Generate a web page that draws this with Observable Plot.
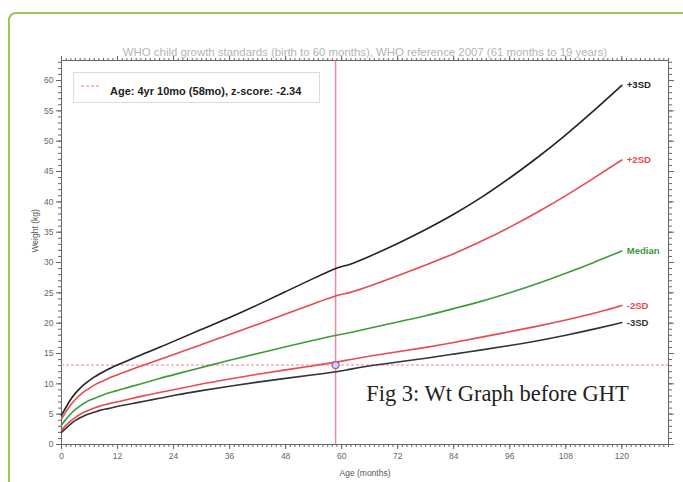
<!DOCTYPE html>
<html>
<head>
<meta charset="utf-8">
<script src="https://cdn.jsdelivr.net/npm/d3@7"></script>
<script src="https://cdn.jsdelivr.net/npm/@observablehq/plot@0.6"></script>
<style>
  html, body { margin: 0; padding: 0; background: #fff; }
  #wrap { position: relative; width: 683px; height: 482px; overflow: hidden; font-family: "Liberation Sans", Arial, sans-serif; }
  #border { position: absolute; left: 8px; top: 12px; width: 720px; height: 520px; border: 2px solid #96c95a; border-radius: 8px; box-sizing: border-box; }
  #chart { position: absolute; left: 0; top: 0; }
  #legend { position: absolute; left: 73px; top: 72px; width: 247px; height: 31px; border: 1px solid #d3dfe4; box-sizing: border-box; background: #fff; }
  #legend svg { position: absolute; left: 7px; top: 10px; }
  #legend span { position: absolute; left: 36px; top: 12px; font-size: 11px; font-weight: bold; color: #222; white-space: nowrap; }
</style>
</head>
<body>
<div id="wrap">
  <div id="border"></div>
  <div id="chart"></div>
  <div id="legend"><svg width="24" height="6"><line x1="0" y1="3" x2="20" y2="3" stroke="#e07a90" stroke-width="1" stroke-dasharray="3,2"/></svg><span></span></div>
</div>
<script>
const months = [0,1,2,3,4,5,6,7,8,9,10,11,12,15,18,21,24,30,36,42,48,54,60,61,66,72,78,84,90,96,102,108,114,120];
const minus3SD = [2.0,2.7,3.4,4.0,4.4,4.8,5.1,5.3,5.6,5.8,5.9,6.1,6.3,6.7,7.2,7.6,8.1,8.9,9.6,10.3,10.9,11.5,12.1,12.3,13.0,13.6,14.2,14.9,15.6,16.3,17.1,18.0,19.0,20.1];
const minus2SD = [2.4,3.2,3.9,4.5,5.0,5.4,5.7,6.0,6.3,6.5,6.7,6.9,7.0,7.6,8.1,8.6,9.0,10.0,10.8,11.6,12.3,13.0,13.7,13.9,14.6,15.3,16.0,16.8,17.7,18.6,19.5,20.5,21.6,22.9];
const median = [3.2,4.2,5.1,5.8,6.4,6.9,7.3,7.6,7.9,8.2,8.5,8.7,8.9,9.6,10.2,10.9,11.5,12.7,13.9,15.0,16.1,17.2,18.2,18.3,19.2,20.2,21.2,22.4,23.6,25.0,26.5,28.2,30.0,31.9];
const plus2SD = [4.2,5.5,6.6,7.5,8.2,8.8,9.3,9.8,10.2,10.5,10.9,11.2,11.5,12.4,13.2,14.0,14.8,16.5,18.1,19.8,21.5,23.2,24.9,24.8,26.1,27.8,29.6,31.4,33.5,35.8,38.3,41.0,43.9,46.9];
const plus3SD = [4.8,6.2,7.5,8.5,9.3,10.0,10.6,11.1,11.6,12.0,12.4,12.8,13.1,14.1,15.1,16.0,17.0,19.0,20.9,23.0,25.2,27.4,29.5,29.4,31.0,33.1,35.4,37.9,40.7,43.9,47.3,51.0,55.0,59.2];

const seriesNames = ["+3SD", "+2SD", "Median", "-2SD", "-3SD"];
const seriesColors = ["#222222", "#e84a4f", "#3d9a3d", "#e84a4f", "#333333"];
const seriesValues = [plus3SD, plus2SD, median, minus2SD, minus3SD];

const patientAge = [58.7];
const patientWeight = [13.1];

const xTickLabels = [0,12,24,36,48,60,72,84,96,108,120];
const yTickLabels = [0,5,10,15,20,25,30,35,40,45,50,55,60];

const titleText = "WHO child growth standards (birth to 60 months), WHO reference 2007 (61 months to 19 years)";
const legendText = "Age: 4yr 10mo (58mo), z-score: -2.34";
const xLabel = "Age (months)";
const yLabel = "Weight (kg)";
const figCaption = "Fig 3: Wt Graph before GHT";

document.querySelector("#legend span").textContent = legendText;

const rows = [];
seriesNames.forEach((s, i) => months.forEach((m, j) => rows.push({s, m, w: seriesValues[i][j]})));
const ends = seriesNames.map((s, i) => ({s, m: months[months.length - 1], w: seriesValues[i][months.length - 1], c: seriesColors[i]}));
const point = patientAge.map((a, i) => ({a, w: patientWeight[i]}));

const minorX = d3.range(0, 131, 1);
const minorY = d3.range(0, 64, 1);
const blank = () => "";
const tickColor = "#666";

const chart = Plot.plot({
  width: 683,
  height: 482,
  marginLeft: 61,
  marginRight: 15,
  marginTop: 60,
  marginBottom: 38,
  style: {fontFamily: "Liberation Sans, Arial, sans-serif", background: "transparent"},
  x: {domain: [0, 130], label: null},
  y: {domain: [0, 63.3], label: null},
  color: {domain: seriesNames, range: seriesColors},
  marks: [
    Plot.axisX({anchor: "bottom", ticks: minorX, tickSize: 3, tickFormat: blank, stroke: tickColor}),
    Plot.axisX({anchor: "top", ticks: minorX, tickSize: 3, tickFormat: blank, stroke: tickColor}),
    Plot.axisY({anchor: "left", ticks: minorY, tickSize: 3, tickFormat: blank, stroke: tickColor}),
    Plot.axisY({anchor: "right", ticks: minorY, tickSize: 3, tickFormat: blank, stroke: tickColor}),
    Plot.axisX({anchor: "bottom", ticks: xTickLabels, tickSize: 5, tickPadding: 3, fontSize: 8.5, fill: "#666", stroke: tickColor}),
    Plot.axisX({anchor: "top", ticks: xTickLabels, tickSize: 5, tickFormat: blank, stroke: tickColor}),
    Plot.axisY({anchor: "left", ticks: yTickLabels, tickSize: 5, tickPadding: 3, fontSize: 8.5, fill: "#666", stroke: tickColor}),
    Plot.axisY({anchor: "right", ticks: yTickLabels, tickSize: 5, tickFormat: blank, stroke: tickColor}),
    Plot.frame({stroke: "#666"}),
    Plot.ruleX(point, {x: "a", stroke: "#e8607a", strokeWidth: 1.5, strokeOpacity: 0.75}),
    Plot.ruleY(point, {y: "w", stroke: "#f08098", strokeWidth: 1, strokeDasharray: "3,2"}),
    Plot.line(rows, {x: "m", y: "w", z: "s", stroke: "s", strokeWidth: 1.6, curve: "basis"}),
    Plot.dot(point, {x: "a", y: "w", r: 3.5, stroke: "#8065a8", fill: "#d9cdea", strokeWidth: 1.2}),
    Plot.text(ends, {x: "m", y: "w", text: "s", fill: "c", dx: 5, textAnchor: "start", fontSize: 9.5, fontWeight: "bold"}),
    Plot.text([titleText], {frameAnchor: "top", dy: -13, fontSize: 11.4, fill: "#b4b4b4"}),
    Plot.text([yLabel], {frameAnchor: "left", dx: -26, rotate: -90, fontSize: 8.5, fill: "#555"}),
    Plot.text([xLabel], {frameAnchor: "bottom", dy: 31, fontSize: 8.5, fill: "#555"}),
    Plot.text([figCaption], {frameAnchor: "bottom-right", dx: -171, dy: -44, textAnchor: "middle", fontSize: 22.5, fill: "#222", fontFamily: "Liberation Serif, Times New Roman, serif"})
  ]
});
document.getElementById("chart").appendChild(chart);
</script>
</body>
</html>
